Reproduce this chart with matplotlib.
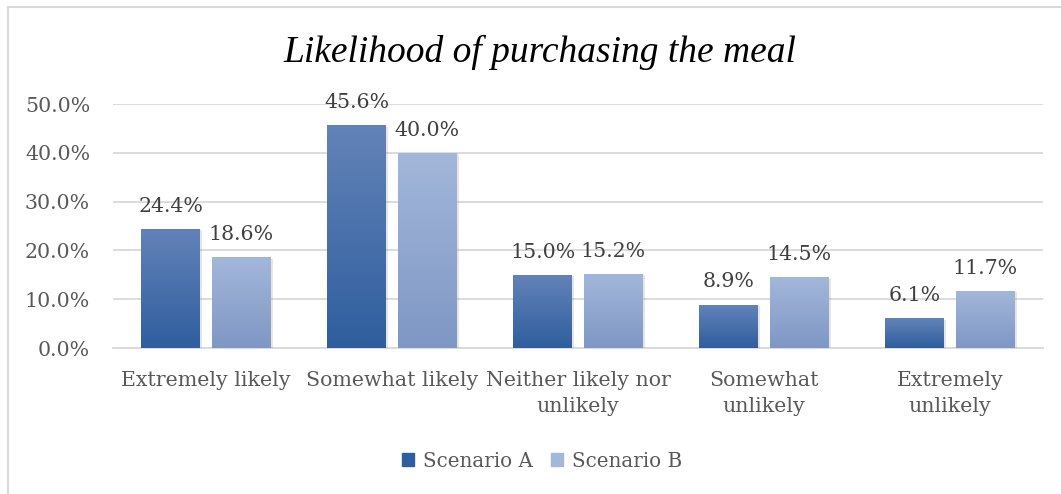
import numpy as np
import matplotlib.pyplot as plt
import matplotlib.patches as mpatches
import matplotlib.patheffects as pe
from matplotlib.colors import LinearSegmentedColormap
from matplotlib.lines import Line2D

categories = ["Extremely likely", "Somewhat likely", "Neither likely nor\nunlikely",
              "Somewhat\nunlikely", "Extremely\nunlikely"]
scenario_a = [24.4, 45.6, 15.0, 8.9, 6.1]
scenario_b = [18.6, 40.0, 15.2, 14.5, 11.7]
y_ticks = [0, 10, 20, 30, 40, 50]

COLORS = {
    "a_top": "#6383B8",
    "a_bot": "#2F5E9E",
    "b_top": "#A3B7DA",
    "b_bot": "#7E97C4",
    "grid": "#D9D9D9",
    "text": "#595959",
    "label": "#404040",
}
SERIF = "DejaVu Serif"
FS = 14.8

fig = plt.figure(figsize=(10.61, 4.94), dpi=100)
ax = fig.add_axes([113 / 1061, 146 / 494, 930 / 1061, 244 / 494])

x = np.arange(len(categories))
w, gap = 0.317, 0.064
off = (w + gap) / 2

shadow = [pe.SimplePatchShadow(offset=(1.5, -1), shadow_rgbFace="#808080", alpha=0.2),
          pe.Normal()]
bars_a = ax.bar(x - off, scenario_a, w, color=COLORS["a_bot"], zorder=3,
                path_effects=shadow)
bars_b = ax.bar(x + off, scenario_b, w, color=COLORS["b_bot"], zorder=3,
                path_effects=shadow)


def fill_gradient(bars, top, bot):
    cmap = LinearSegmentedColormap.from_list("g", [bot, top])
    grad = np.linspace(0, 1, 256).reshape(-1, 1)
    for b in bars:
        x0, y0 = b.get_x(), b.get_y()
        im = ax.imshow(grad, cmap=cmap, origin="lower", aspect="auto",
                       extent=[x0, x0 + b.get_width(), y0, y0 + b.get_height()],
                       zorder=4, interpolation="bicubic")
        im.set_clip_path(b)


fill_gradient(bars_a, COLORS["a_top"], COLORS["a_bot"])
fill_gradient(bars_b, COLORS["b_top"], COLORS["b_bot"])

for bars, vals in [(bars_a, scenario_a), (bars_b, scenario_b)]:
    for b, v in zip(bars, vals):
        ax.annotate(f"{v:.1f}%", (b.get_x() + b.get_width() / 2, v),
                    xytext=(0, 9.5), textcoords="offset points", ha="center",
                    va="bottom", fontsize=FS, family=SERIF,
                    color=COLORS["label"], zorder=5)

ax.set_xlim(-0.5, len(categories) - 0.5)
ax.set_ylim(0, 50)
ax.set_yticks(y_ticks)
ax.set_yticklabels([f"{t:.1f}%" for t in y_ticks], family=SERIF,
                   fontsize=FS, color=COLORS["text"])
ax.set_xticks(x)
ax.set_xticklabels(categories, family=SERIF, fontsize=FS,
                   color=COLORS["text"], linespacing=1.45)
ax.tick_params(axis="both", length=0)
ax.tick_params(axis="y", pad=16.5)
ax.tick_params(axis="x", pad=16.5)
ax.grid(axis="y", color=COLORS["grid"], linewidth=1.3, zorder=0)
ax.set_axisbelow(True)
for s in ["top", "right", "left"]:
    ax.spines[s].set_visible(False)
ax.spines["bottom"].set_color(COLORS["grid"])
ax.spines["bottom"].set_linewidth(1.3)

fig.text(0.509, 1 - 52 / 494, "Likelihood of purchasing the meal",
         family="Liberation Serif", style="italic", fontsize=27,
         color="#000000", ha="center", va="center")

handles = [mpatches.Patch(color=COLORS["a_bot"], label="Scenario A"),
           mpatches.Patch(color=COLORS["b_top"], label="Scenario B")]
fig.legend(handles=handles, loc="center", bbox_to_anchor=(0.511, 1 - 461 / 494),
           ncol=2, frameon=False, handlelength=0.6, handleheight=0.6,
           handletextpad=0.45, columnspacing=0.9,
           prop={"family": SERIF, "size": 14.3}, labelcolor=COLORS["text"])

# chart frame (top and left edges only)
fig.add_artist(Line2D([7.5 / 1061, 1], [1 - 7.5 / 494] * 2,
                      color=COLORS["grid"], linewidth=1.5))
fig.add_artist(Line2D([7.5 / 1061] * 2, [0, 1 - 7.5 / 494],
                      color=COLORS["grid"], linewidth=1.5))

fig.savefig("out.png", dpi=100, facecolor="white")
